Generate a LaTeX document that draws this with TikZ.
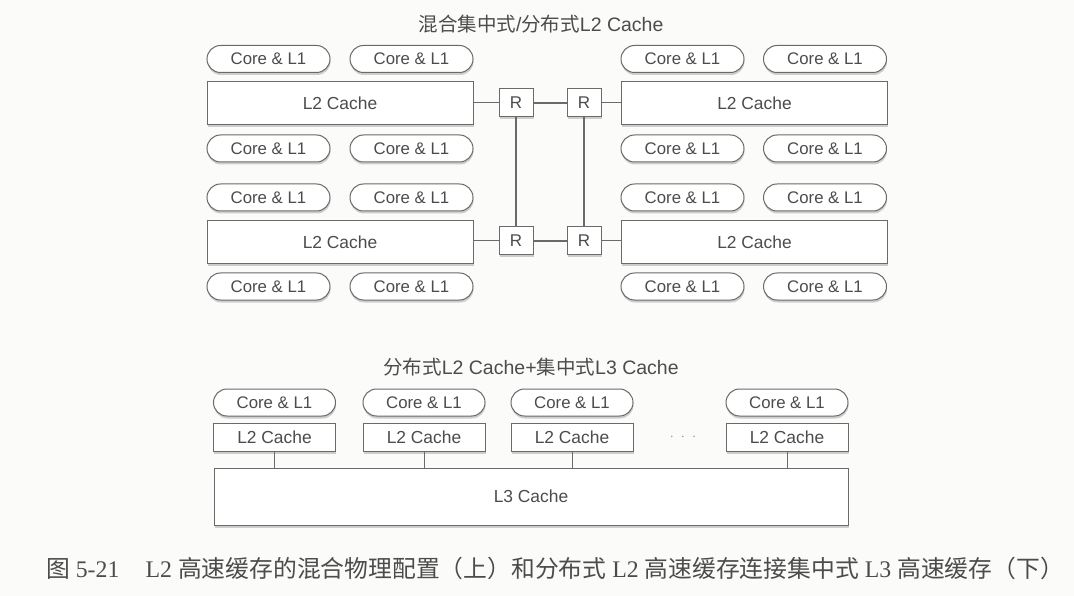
\documentclass[tikz,border=0pt]{standalone}
\usepackage{fontspec}
\setmainfont{Liberation Sans}
\newfontfamily\cjk{Noto Sans CJK SC}
\newfontfamily\capserif{Liberation Serif}
\usetikzlibrary{shadows}
\definecolor{linec}{HTML}{6A6A6A}
\definecolor{textc}{HTML}{4C4C4C}
\definecolor{bgc}{HTML}{FBFBF9}
\begin{document}
\begin{tikzpicture}[x=1pt,y=-1pt,
  shade/.style={drop shadow={shadow xshift=0.5pt,shadow yshift=-2.5pt,opacity=0.18,fill=black}},
  pill/.style={draw=linec,line width=1pt,fill=white,rounded corners=13.5pt,
    minimum width=123pt,minimum height=27pt,inner sep=0pt,text=textc,
    font=\fontsize{16.8}{16.8}\selectfont,shade},
  bigl2/.style={draw=linec,line width=1pt,fill=white,minimum width=266pt,
    minimum height=43pt,inner sep=0pt,text=textc,font=\fontsize{17.4}{17.4}\selectfont,shade},
  smalll2/.style={draw=linec,line width=1pt,fill=white,minimum width=122pt,
    minimum height=28pt,inner sep=0pt,text=textc,font=\fontsize{17.4}{17.4}\selectfont,shade},
  rbox/.style={draw=linec,line width=1pt,fill=white,minimum width=34pt,
    minimum height=28pt,inner sep=0pt,text=textc,font=\fontsize{17}{17}\selectfont,shade},
  l3box/.style={draw=linec,line width=1pt,fill=white,minimum width=634pt,
    minimum height=57pt,inner sep=0pt,text=textc,font=\fontsize{17.4}{17.4}\selectfont,shade},
  thin/.style={draw=linec,line width=1pt},
  thick/.style={draw=linec,line width=1.9pt},
  ttl/.style={text=textc,inner sep=0pt,font=\fontsize{19.5}{19.5}\selectfont}
]
\useasboundingbox[fill=bgc] (0,0) rectangle (1074,596);

% ---------- top titles ----------
\node[ttl] (t1) at (541,24) {{\cjk 混合集中式}/{\cjk 分布式}L2 Cache};

% ---------- top-left group ----------
\node[pill] (a1) at (268.5,59) {Core \& L1};
\node[pill] (b1) at (411.5,59) {Core \& L1};
\node[bigl2] (lt) at (340,103.5) {L2 Cache};
\node[pill] (a2) at (268.5,148.5) {Core \& L1};
\node[pill] (b2) at (411.5,148.5) {Core \& L1};
\node[pill] (a3) at (268.5,197.5) {Core \& L1};
\node[pill] (b3) at (411.5,197.5) {Core \& L1};
\node[bigl2] (lb) at (340,242) {L2 Cache};
\node[pill] (a4) at (268.5,286.5) {Core \& L1};
\node[pill] (b4) at (411.5,286.5) {Core \& L1};

% ---------- top-right group ----------
\node[pill] (c1) at (682.5,59) {Core \& L1};
\node[pill] (d1) at (825,59) {Core \& L1};
\node[bigl2] (rt) at (754.5,103.5) {L2 Cache};
\node[pill] (c2) at (682.5,148.5) {Core \& L1};
\node[pill] (d2) at (825,148.5) {Core \& L1};
\node[pill] (c3) at (682.5,197.5) {Core \& L1};
\node[pill] (d3) at (825,197.5) {Core \& L1};
\node[bigl2] (rb) at (754.5,242) {L2 Cache};
\node[pill] (c4) at (682.5,286.5) {Core \& L1};
\node[pill] (d4) at (825,286.5) {Core \& L1};

% ---------- routers ----------
\node[rbox] (r1) at (516,103) {R};
\node[rbox] (r2) at (584,103) {R};
\node[rbox] (r3) at (516,241) {R};
\node[rbox] (r4) at (584,241) {R};

\draw[thin] (lt.east |- r1) -- (r1.west);
\draw[thin] (r2.east) -- (rt.west |- r2);
\draw[thin] (lb.east |- r3) -- (r3.west);
\draw[thin] (r4.east) -- (rb.west |- r4);
\draw[thick] (r1) -- (r2);
\draw[thick] (r3) -- (r4);
\draw[thick] (r1) -- (r3);
\draw[thick] (r2) -- (r4);

% ---------- bottom part ----------
\node[ttl] (t2) at (531,367) {{\cjk 分布式}L2 Cache+{\cjk 集中式}L3 Cache};

\node[pill,minimum width=122pt] (p1) at (274.5,402.5) {Core \& L1};
\node[pill,minimum width=122pt] (p2) at (424,402.5) {Core \& L1};
\node[pill,minimum width=122pt] (p3) at (572,402.5) {Core \& L1};
\node[pill,minimum width=122pt] (p4) at (787,402.5) {Core \& L1};

\node[smalll2] (s1) at (274.5,437) {L2 Cache};
\node[smalll2] (s2) at (424,437) {L2 Cache};
\node[smalll2] (s3) at (572,437) {L2 Cache};
\node[smalll2] (s4) at (787,437) {L2 Cache};
\node[text=gray!85,inner sep=0pt,font=\fontsize{15}{15}\selectfont] (dots) at (683,437) {$\cdot\;\cdot\;\cdot$};

\node[l3box] (l3) at (531,496.5) {L3 Cache};

\draw[thin] (s1.south) -- (s1.south |- l3.north);
\draw[thin] (s2.south) -- (s2.south |- l3.north);
\draw[thin] (s3.south) -- (s3.south |- l3.north);
\draw[thin] (s4.south) -- (s4.south |- l3.north);

% ---------- caption ----------
\node[text=textc,inner sep=0pt,font=\fontsize{23.8}{23.8}\capserif] (cap) at (555,568)
  {{\cjk 图} 5-21\hspace{1.1em}L2 {\cjk 高速缓存的混合物理配置（上）和分布式} L2 {\cjk 高速缓存连接集中式} L3 {\cjk 高速缓存（下）}};
\end{tikzpicture}
\end{document}
